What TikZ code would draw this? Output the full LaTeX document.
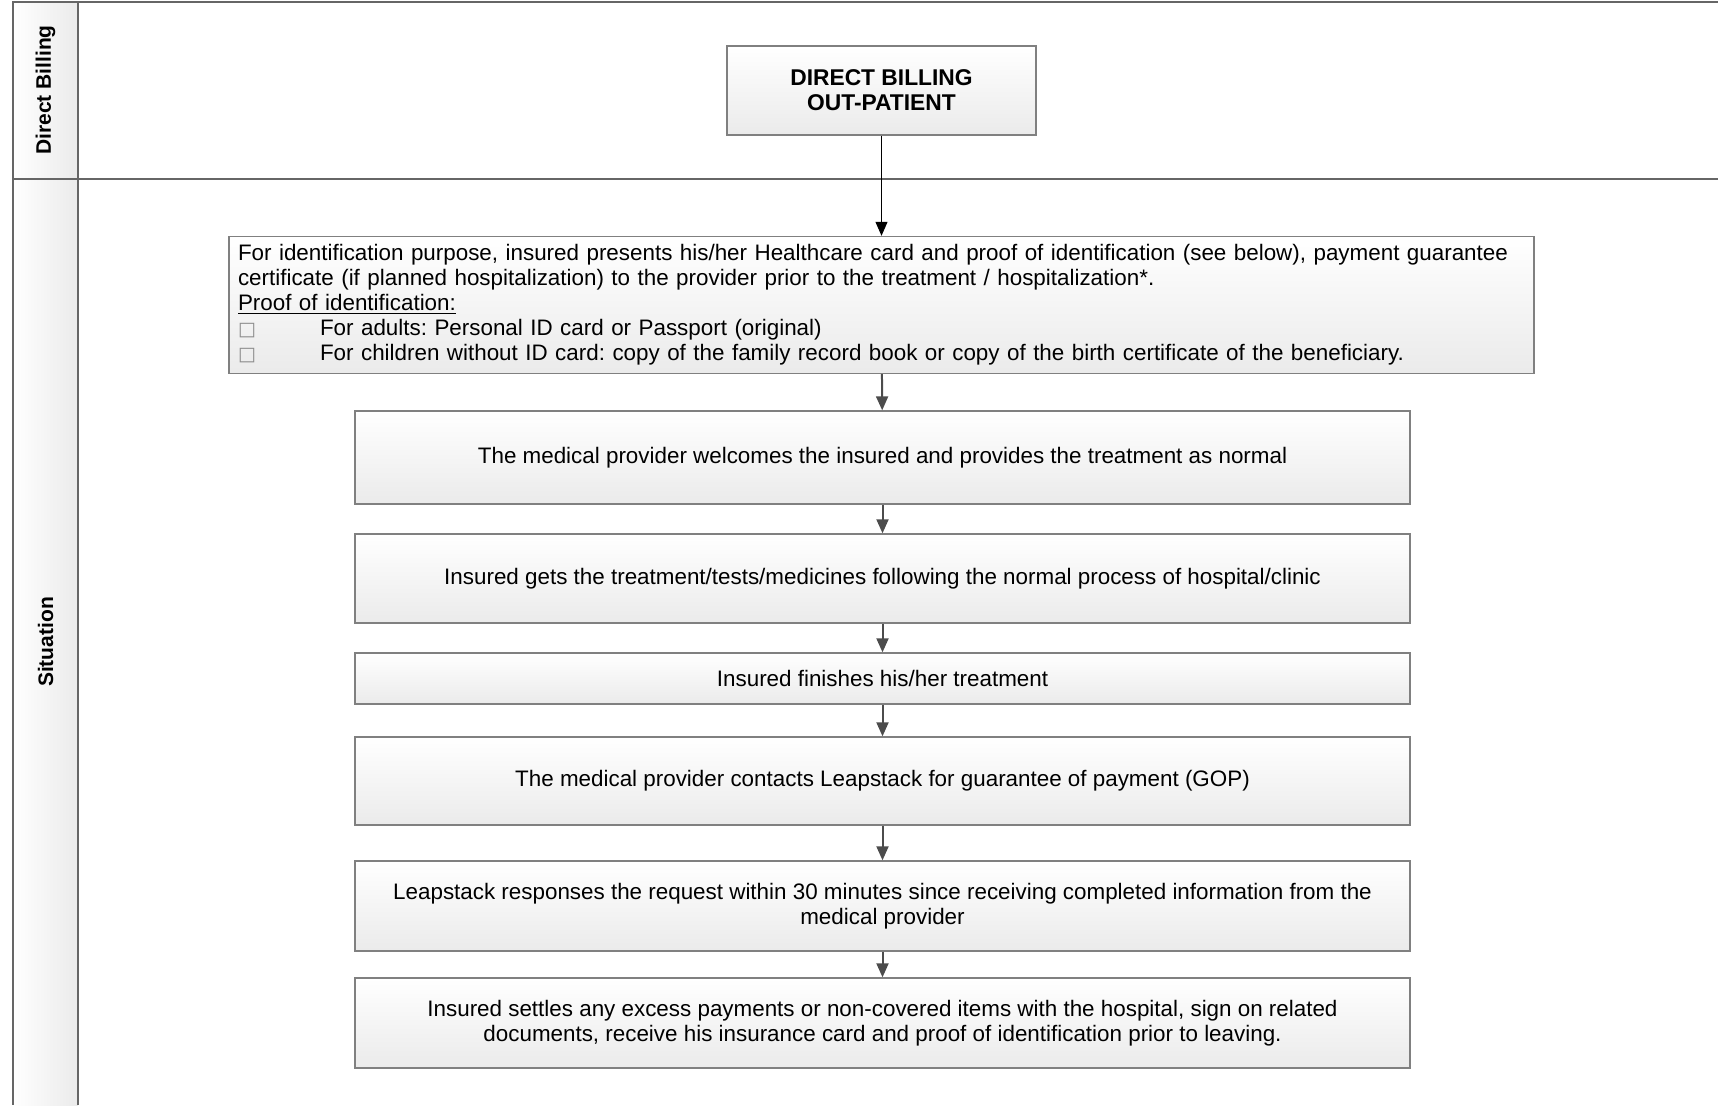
\documentclass[tikz,border=0pt]{standalone}
\usepackage{fontspec}
\setmainfont{Liberation Sans}
\newfontfamily\boxglyph{DejaVu Sans}
\usetikzlibrary{positioning, arrows.meta}
\frenchspacing
\newcommand{\chk}{\makebox[41pt][l]{\textcolor{black!45}{\boxglyph\fontsize{9.5}{8}\selectfont □}}}

\begin{document}
\begin{tikzpicture}[x=0.5pt, y=-0.5pt,
	procbox/.style={draw=black!50, line width=0.7pt, top color=white, bottom color=black!8,
		minimum width=527.5pt, align=center, inner sep=4pt, font=\fontsize{11.2}{12.5}\selectfont},
	lanelabel/.style={rotate=90, font=\bfseries\fontsize{10.5}{12.5}\selectfont},
	flow/.style={draw=black!70, line width=1pt, -{Triangle[length=7pt, width=6pt]}}
	]
	\useasboundingbox (0,0) rectangle (1718,1105);
	% swimlanes
	\fill[left color=white, right color=black!8] (13,2) rectangle (78,1105);
	\draw[black!60, line width=1pt] (1718,2) -- (13,2) -- (13,1105);
	\draw[black!60, line width=1pt] (78,2) -- (78,1105);
	\draw[black!60, line width=1pt] (13,179) -- (1718,179);
	\node[lanelabel] (laneDB) at (45.5,90) {Direct Billing};
	\node[lanelabel] (laneSit) at (45.5,642) {Situation};

	% process boxes
	\node[procbox, minimum width=154.5pt, minimum height=44.5pt,
		font=\bfseries\fontsize{11.4}{12.5}\selectfont] (start) at (881.5,90.5) {DIRECT BILLING\\OUT-PATIENT};
	\node[procbox, minimum width=652.5pt, minimum height=68.5pt, text width=643.5pt, align=left] (ident) at (881.5,305)
		{For identification purpose, insured presents his/her Healthcare card and proof of identification (see below), payment guarantee\\
		certificate (if planned hospitalization) to the provider prior to the treatment / hospitalization*.\\
		\underline{Proof of identification:}\\
		\chk For adults: Personal ID card or Passport (original)\\
		\chk For children without ID card: copy of the family record book or copy of the birth certificate of the beneficiary.};
	\node[procbox, minimum height=46.5pt] (welcome) at (882.5,457.5)
		{The medical provider welcomes the insured and provides the treatment as normal};
	\node[procbox, minimum height=44.5pt] (treat) at (882.5,578.5)
		{Insured gets the treatment/tests/medicines following the normal process of hospital/clinic};
	\node[procbox, minimum height=25.5pt] (finish) at (882.5,678.5)
		{Insured finishes his/her treatment};
	\node[procbox, minimum height=44pt] (contact) at (882.5,781)
		{The medical provider contacts Leapstack for guarantee of payment (GOP)};
	\node[procbox, minimum height=45pt] (reply) at (882.5,906)
		{Leapstack responses the request within 30 minutes since receiving completed information from the\\medical provider};
	\node[procbox, minimum height=45pt] (settle) at (882.5,1023)
		{Insured settles any excess payments or non-covered items with the hospital, sign on related\\documents, receive his insurance card and proof of identification prior to leaving.};

	% connectors
	\draw[flow, draw=black, line width=0.5pt] (start) -- (ident);
	\foreach \a/\b in {ident/welcome, welcome/treat, treat/finish, finish/contact, contact/reply, reply/settle}
		\draw[flow] (\a) -- (\b);
\end{tikzpicture}
\end{document}
